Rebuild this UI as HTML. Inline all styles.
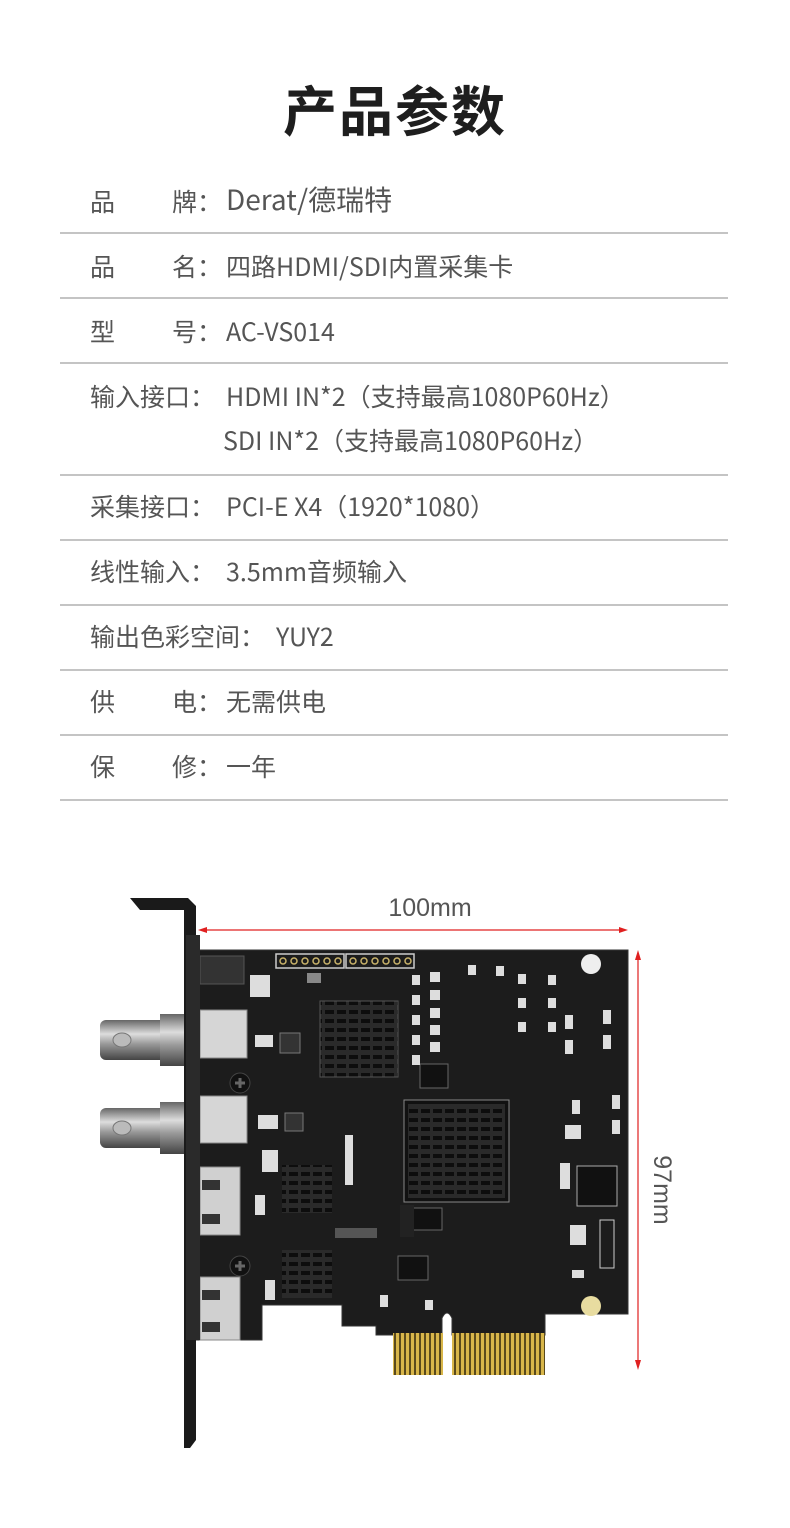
<!DOCTYPE html>
<html><head><meta charset="utf-8">
<style>
html,body{margin:0;padding:0;background:#fff;}
body{width:790px;height:1528px;position:relative;overflow:hidden;font-family:"Liberation Sans","Noto Sans CJK SC",sans-serif;}
.t{position:absolute;left:0;width:790px;top:70px;text-align:center;font-size:54px;font-weight:bold;color:#1e1e1e;font-family:"Noto Sans CJK SC",sans-serif;letter-spacing:2px;line-height:76px;}
.r{position:absolute;font-size:25px;color:#555;line-height:30px;white-space:nowrap;font-family:"Noto Sans CJK SC",sans-serif;}
.l{position:absolute;left:60px;width:668px;height:2px;background:#c4c4c4;}
</style></head><body>
<div class="t">产品参数</div>

<div class="r" style="left:90px;top:186px">品</div><div class="r" style="left:172px;top:186px">牌：</div><div class="r" style="left:226px;top:184px;font-size:28px">Derat/德瑞特</div>
<div class="l" style="top:232px"></div>
<div class="r" style="left:90px;top:251px">品</div><div class="r" style="left:172px;top:251px">名：</div><div class="r" style="left:226px;top:251px">四路HDMI/SDI内置采集卡</div>
<div class="l" style="top:297px"></div>
<div class="r" style="left:90px;top:316px">型</div><div class="r" style="left:172px;top:316px">号：</div><div class="r" style="left:226px;top:316px">AC-VS014</div>
<div class="l" style="top:362px"></div>
<div class="r" style="left:90px;top:381px">输入接口：</div><div class="r" style="left:226px;top:381px">HDMI IN*2（支持最高1080P60Hz）</div>
<div class="r" style="left:223px;top:425px">SDI IN*2（支持最高1080P60Hz）</div>
<div class="l" style="top:474px"></div>
<div class="r" style="left:90px;top:491px">采集接口：</div><div class="r" style="left:226px;top:491px">PCI-E X4（1920*1080）</div>
<div class="l" style="top:539px"></div>
<div class="r" style="left:90px;top:556px">线性输入：</div><div class="r" style="left:226px;top:556px">3.5mm音频输入</div>
<div class="l" style="top:604px"></div>
<div class="r" style="left:90px;top:621px">输出色彩空间：</div><div class="r" style="left:276px;top:621px">YUY2</div>
<div class="l" style="top:669px"></div>
<div class="r" style="left:90px;top:686px">供</div><div class="r" style="left:172px;top:686px">电：</div><div class="r" style="left:226px;top:686px">无需供电</div>
<div class="l" style="top:734px"></div>
<div class="r" style="left:90px;top:751px">保</div><div class="r" style="left:172px;top:751px">修：</div><div class="r" style="left:226px;top:751px">一年</div>
<div class="l" style="top:799px"></div>

<svg style="position:absolute;left:0;top:0" width="790" height="1528" viewBox="0 0 790 1528">
<defs>
<pattern id="fin" width="12" height="9" patternUnits="userSpaceOnUse"><rect width="12" height="9" fill="#2a2a2a"/><rect x="1" y="2" width="9" height="4" fill="#0d0d0d"/></pattern>
<pattern id="gold" width="5" height="30" patternUnits="userSpaceOnUse"><rect width="5" height="30" fill="#3a2e10"/><rect x="0.8" width="3.4" height="30" fill="#d8b64a"/></pattern>
<linearGradient id="bnc" x1="0" y1="0" x2="0" y2="1"><stop offset="0" stop-color="#666"/><stop offset=".35" stop-color="#ddd"/><stop offset=".6" stop-color="#999"/><stop offset="1" stop-color="#444"/></linearGradient>
</defs>
<!-- dimension text -->
<text x="430" y="916" text-anchor="middle" font-size="25" fill="#555" font-family="Liberation Sans,sans-serif">100mm</text>
<text x="0" y="0" transform="translate(654,1190) rotate(90)" text-anchor="middle" font-size="25" fill="#555" font-family="Liberation Sans,sans-serif">97mm</text>
<!-- red arrows -->
<line x1="202" y1="930" x2="624" y2="930" stroke="#e02020" stroke-width="1.2"/>
<polygon points="198,930 207,927 207,933" fill="#e02020"/><polygon points="628,930 619,927 619,933" fill="#e02020"/>
<line x1="638" y1="954" x2="638" y2="1366" stroke="#e02020" stroke-width="1.2"/>
<polygon points="638,950 635,960 641,960" fill="#e02020"/><polygon points="638,1370 635,1360 641,1360" fill="#e02020"/>
<!-- board -->
<path d="M196,950 L628,950 L628,1314 L545,1314 L545,1335 L452,1335 L452,1318 Q447,1308 442,1318 L442,1335 L376,1335 L376,1326 L342,1326 L342,1305 L262,1305 L262,1340 L196,1340 Z" fill="#1c1c1c" stroke="#333" stroke-width="1"/>
<rect x="393" y="1333" width="50" height="42" fill="url(#gold)"/>
<rect x="452" y="1333" width="93" height="42" fill="url(#gold)"/>
<!-- header pins -->
<rect x="276" y="954" width="68" height="14" fill="none" stroke="#ccc" stroke-width="1.5"/>
<rect x="346" y="954" width="68" height="14" fill="none" stroke="#ccc" stroke-width="1.5"/>
<g fill="none" stroke="#c9b36a" stroke-width="1.5"><circle cx="283" cy="961" r="3"/><circle cx="294" cy="961" r="3"/><circle cx="305" cy="961" r="3"/><circle cx="316" cy="961" r="3"/><circle cx="327" cy="961" r="3"/><circle cx="338" cy="961" r="3"/><circle cx="353" cy="961" r="3"/><circle cx="364" cy="961" r="3"/><circle cx="375" cy="961" r="3"/><circle cx="386" cy="961" r="3"/><circle cx="397" cy="961" r="3"/><circle cx="408" cy="961" r="3"/></g>
<circle cx="591" cy="964" r="10" fill="#eee"/><circle cx="591" cy="1306" r="10" fill="#e8dca0"/>
<!-- heatsinks -->
<rect x="320" y="1001" width="78" height="76" fill="url(#fin)" stroke="#555"/>
<rect x="404" y="1100" width="105" height="102" fill="#111" stroke="#888"/>
<rect x="408" y="1104" width="97" height="94" fill="url(#fin)"/>
<rect x="282" y="1165" width="50" height="48" fill="url(#fin)"/>
<rect x="282" y="1250" width="50" height="48" fill="url(#fin)"/>
<!-- ICs -->
<rect x="420" y="1064" width="28" height="24" fill="#111" stroke="#666"/>
<rect x="577" y="1166" width="40" height="40" fill="#111" stroke="#aaa"/>
<rect x="280" y="1033" width="20" height="20" fill="#333" stroke="#777"/>
<rect x="285" y="1113" width="18" height="18" fill="#333" stroke="#777"/>
<rect x="398" y="1256" width="30" height="24" fill="#111" stroke="#666"/>
<rect x="412" y="1208" width="30" height="22" fill="#111" stroke="#666"/>
<rect x="400" y="1205" width="14" height="32" fill="#222"/>
<rect x="335" y="1228" width="42" height="10" fill="#555"/>
<rect x="600" y="1220" width="14" height="48" fill="none" stroke="#ccc"/>
<g fill="#ddd"><rect x="430" y="972" width="10" height="10"/><rect x="430" y="990" width="10" height="10"/><rect x="430" y="1008" width="10" height="10"/><rect x="430" y="1025" width="10" height="10"/><rect x="430" y="1042" width="10" height="10"/><rect x="412" y="975" width="8" height="10"/><rect x="412" y="995" width="8" height="10"/><rect x="412" y="1015" width="8" height="10"/><rect x="412" y="1035" width="8" height="10"/><rect x="412" y="1055" width="8" height="10"/><rect x="468" y="965" width="8" height="10"/><rect x="496" y="966" width="8" height="10"/><rect x="518" y="974" width="8" height="10"/><rect x="548" y="975" width="8" height="10"/><rect x="518" y="998" width="8" height="10"/><rect x="548" y="998" width="8" height="10"/><rect x="518" y="1022" width="8" height="10"/><rect x="548" y="1022" width="8" height="10"/><rect x="565" y="1015" width="8" height="14"/><rect x="603" y="1010" width="8" height="14"/><rect x="565" y="1040" width="8" height="14"/><rect x="603" y="1035" width="8" height="14"/><rect x="572" y="1100" width="8" height="14"/><rect x="612" y="1095" width="8" height="14"/><rect x="565" y="1125" width="16" height="14"/><rect x="612" y="1120" width="8" height="14"/><rect x="560" y="1163" width="10" height="26"/><rect x="250" y="975" width="20" height="22"/><rect x="255" y="1035" width="18" height="12"/><rect x="258" y="1115" width="20" height="14"/><rect x="262" y="1150" width="16" height="22"/><rect x="345" y="1135" width="8" height="50"/><rect x="570" y="1225" width="16" height="20"/><rect x="572" y="1270" width="12" height="8"/><rect x="380" y="1295" width="8" height="12"/><rect x="425" y="1300" width="8" height="10"/><rect x="265" y="1280" width="10" height="20"/><rect x="255" y="1195" width="10" height="20"/><rect x="307" y="973" width="14" height="10" fill="#888"/></g>
<!-- left ports -->
<rect x="200" y="956" width="44" height="28" fill="#333" stroke="#555"/>
<rect x="200" y="1010" width="47" height="48" fill="#d6d6d6" stroke="#888"/>
<rect x="200" y="1096" width="47" height="47" fill="#d6d6d6" stroke="#888"/>
<rect x="200" y="1167" width="40" height="68" fill="#d0d0d0" stroke="#888"/>
<rect x="200" y="1277" width="40" height="63" fill="#d0d0d0" stroke="#888"/>
<g fill="#333"><rect x="202" y="1180" width="18" height="10"/><rect x="202" y="1214" width="18" height="10"/><rect x="202" y="1290" width="18" height="10"/><rect x="202" y="1322" width="18" height="10"/></g>
<circle cx="240" cy="1083" r="10" fill="#111" stroke="#444"/><path d="M235,1083h10M240,1078v10" stroke="#666" stroke-width="3"/>
<circle cx="240" cy="1266" r="10" fill="#111" stroke="#444"/><path d="M235,1266h10M240,1261v10" stroke="#666" stroke-width="3"/>
<!-- bracket -->
<path d="M130,898 L188,898 L196,906 L196,1440 L190,1448 L184,1448 L184,910 L140,910 Z" fill="#1a1a1a"/>
<rect x="186" y="935" width="14" height="405" fill="#2a2a2a"/>
<!-- BNC -->
<g><rect x="100" y="1020" width="70" height="40" rx="6" fill="url(#bnc)"/><rect x="160" y="1014" width="24" height="52" fill="url(#bnc)"/><ellipse cx="122" cy="1040" rx="9" ry="7" fill="#bbb" stroke="#777"/></g>
<g><rect x="100" y="1108" width="70" height="40" rx="6" fill="url(#bnc)"/><rect x="160" y="1102" width="24" height="52" fill="url(#bnc)"/><ellipse cx="122" cy="1128" rx="9" ry="7" fill="#bbb" stroke="#777"/></g>
</svg>
</body></html>
